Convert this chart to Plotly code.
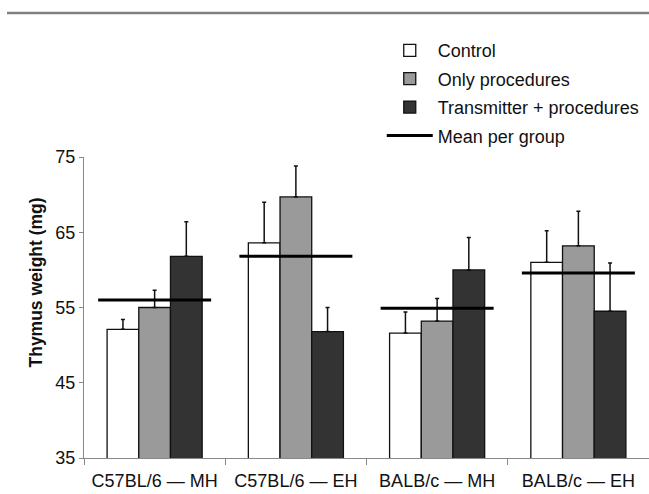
import plotly.graph_objects as go

categories = ["C57BL/6 — MH", "C57BL/6 — EH", "BALB/c — MH", "BALB/c — EH"]
control = [52.1, 63.6, 51.6, 61.0]
control_err = [1.3, 5.4, 2.8, 4.2]
only_proc = [55.0, 69.7, 53.2, 63.2]
only_proc_err = [2.3, 4.1, 3.0, 4.6]
transmitter = [61.8, 51.8, 60.0, 54.5]
transmitter_err = [4.6, 3.2, 4.3, 6.4]
group_mean = [56.0, 61.8, 54.9, 59.6]
y_ticks = [35, 45, 55, 65, 75]

FONT = "Liberation Sans, Arial, sans-serif"

fig = go.Figure()

def add_bar(name, vals, errs, color):
    fig.add_trace(go.Bar(
        name=name, legendgroup=name, x=categories, y=vals,
        marker=dict(color=color, line=dict(color="#111111", width=1.3)),
        error_y=dict(type="data", symmetric=False, array=errs,
                     arrayminus=[0] * len(errs), color="#111111",
                     thickness=1.5, width=2),
    ))

add_bar("Control", control, control_err, "#ffffff")
add_bar("Only procedures", only_proc, only_proc_err, "#9a9a9a")
add_bar("Transmitter + procedures", transmitter, transmitter_err, "#333333")

mx, my = [], []
for i, m in enumerate(group_mean):
    mx += [i - 0.4, i + 0.4, None]
    my += [m, m, None]
fig.add_trace(go.Scatter(
    name="Mean per group", legendgroup="mean", x=mx, y=my, mode="lines",
    line=dict(color="#000000", width=3), xaxis="x2", yaxis="y",
))

fig.update_layout(
    width=649, height=494,
    margin=dict(l=84, r=0, t=157, b=36),
    paper_bgcolor="white", plot_bgcolor="white",
    barmode="group", bargap=0.327, bargroupgap=0,
    font=dict(family=FONT, size=18, color="#1a1a1a"),
    showlegend=True,
    legend=dict(x=0.527, y=1.415, xanchor="left", yanchor="top",
                font=dict(size=18, color="#111111"),
                itemwidth=46, tracegroupgap=2, bgcolor="rgba(0,0,0,0)",
                traceorder="grouped"),
    xaxis=dict(type="category", showline=True, linecolor="#888888", linewidth=1,
               ticks="outside", tickson="boundaries", ticklen=6,
               tickcolor="#888888", showgrid=False, automargin=False,
               ticklabelstandoff=6,
               tickfont=dict(size=18, color="#111111")),
    xaxis2=dict(overlaying="x", range=[-0.5, 3.5], visible=False),
    yaxis=dict(range=[35, 75], tickvals=y_ticks, showline=True,
               linecolor="#888888", linewidth=1, ticks="outside", ticklen=4,
               tickcolor="#888888", showgrid=False, zeroline=False,
               automargin=False, tickfont=dict(size=18, color="#111111")),
    annotations=[dict(text="<b>Thymus weight (mg)</b>", textangle=-90,
                      xref="paper", yref="paper",
                      x=(23 - 84) / 565, y=(458 - 282.5) / 301,
                      showarrow=False, font=dict(size=17.5, color="#111111"))],
    shapes=[dict(type="line", xref="paper", yref="paper",
                 x0=(7 - 84) / 565, x1=1, y0=(458 - 13) / 301, y1=(458 - 13) / 301,
                 line=dict(color="#7f7f7f", width=2.5))],
)

fig.write_html("out.html")
